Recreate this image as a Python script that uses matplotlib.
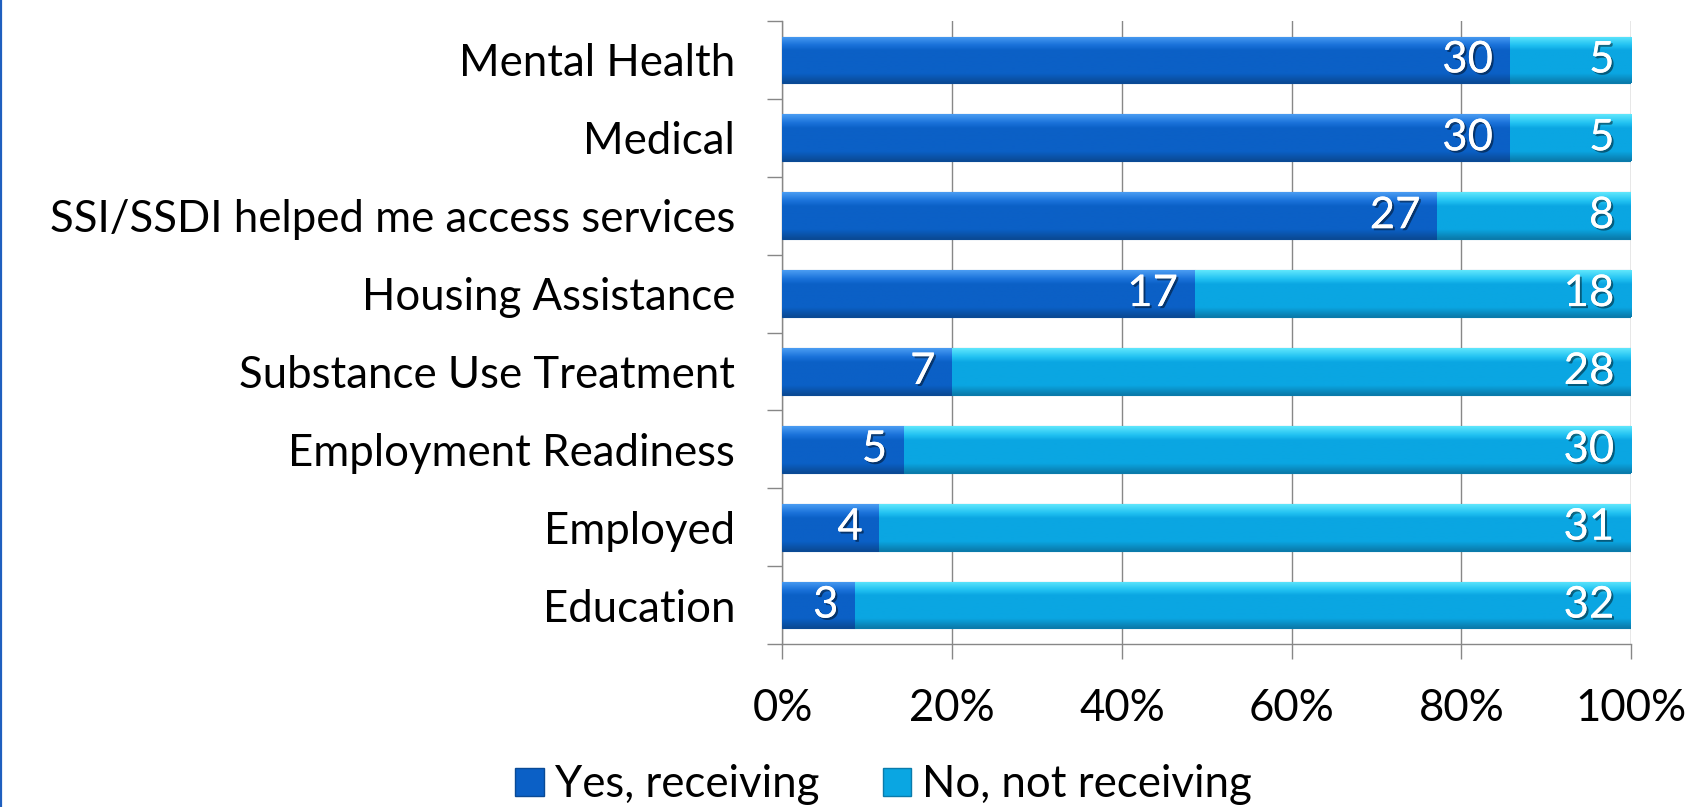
import matplotlib
matplotlib.use('Agg')
import matplotlib.pyplot as plt
import matplotlib.patheffects as pe
from matplotlib.colors import LinearSegmentedColormap
from matplotlib.patches import Patch
from matplotlib.lines import Line2D
import numpy as np

categories = ['Mental Health', 'Medical', 'SSI/SSDI helped me access services',
              'Housing Assistance', 'Substance Use Treatment', 'Employment Readiness',
              'Employed', 'Education']
yes_counts = [30, 30, 27, 17, 7, 5, 4, 3]
no_counts = [5, 5, 8, 18, 28, 30, 31, 32]
series_names = ['Yes, receiving', 'No, not receiving']
tick_labels = ['0%', '20%', '40%', '60%', '80%', '100%']

plt.rcParams['font.family'] = ['Lato', 'DejaVu Sans']
FS = 31.5

yes = np.array(yes_counts, dtype=float)
no = np.array(no_counts, dtype=float)
total = yes + no
yes_p = yes / total
no_p = no / total

fig = plt.figure(figsize=(16.9, 8.07), dpi=100)
ax = fig.add_axes([782.5 / 1690, 1 - 644 / 807, (1631 - 782.5) / 1690, (644 - 21) / 807])

y = np.arange(len(categories))
h = 0.6
yes_color = '#0b60c6'
no_color = '#0aa6e2'
bars_yes = ax.barh(y, yes_p, height=h, color=yes_color, edgecolor='#0a4a95', linewidth=0.8, zorder=3)
bars_no = ax.barh(y, no_p, left=yes_p, height=h, color=no_color, edgecolor='#0a7bab', linewidth=0.8, zorder=3)

# bevel-like vertical shading on each bar
cmap_yes = LinearSegmentedColormap.from_list('yes', [(0, '#4a9cf2'), (0.18, '#1a72da'), (0.3, yes_color),
                                                     (0.8, yes_color), (1, '#0a4a95')])
cmap_no = LinearSegmentedColormap.from_list('no', [(0, '#5fe6fc'), (0.18, '#22c2f2'), (0.3, no_color),
                                                   (0.8, no_color), (1, '#0a7bab')])
grad = np.linspace(0, 1, 64).reshape(-1, 1)
for bars, cm in ((bars_yes, cmap_yes), (bars_no, cmap_no)):
    for b in bars:
        x0, y0 = b.get_x(), b.get_y()
        w, hh = b.get_width(), b.get_height()
        im = ax.imshow(grad, cmap=cm, aspect='auto', origin='upper',
                       extent=(x0, x0 + w, y0 + hh, y0), zorder=3.5, interpolation='bilinear')
        im.set_clip_path(b)

shadow = [pe.withSimplePatchShadow(offset=(1.5, -1.5), shadow_rgbFace='black', alpha=0.45), pe.Normal()]
for i in range(len(categories)):
    ax.annotate(f'{yes_counts[i]}', xy=(yes_p[i], y[i]), xytext=(-12, 0), textcoords='offset points',
                ha='right', va='center', color='white', fontsize=FS, zorder=5, path_effects=shadow)
    ax.annotate(f'{no_counts[i]}', xy=(1.0, y[i]), xytext=(-12, 0), textcoords='offset points',
                ha='right', va='center', color='white', fontsize=FS, zorder=5, path_effects=shadow)

ax.set_xlim(0, 1)
ax.set_ylim(len(categories) - 0.5, -0.5)
ax.set_xticks(np.linspace(0, 1, 6))
ax.set_xticklabels(tick_labels, fontsize=FS)
ax.set_yticks(y)
ax.set_yticklabels(categories, fontsize=FS)
ax.set_yticks(np.arange(-0.5, len(categories), 1), minor=True)

grid_c = '#878787'
ax.set_axisbelow(True)
ax.grid(axis='x', color=grid_c, linewidth=1.0, zorder=0)
ax.tick_params(axis='y', which='major', length=0, pad=34)
ax.tick_params(axis='y', which='minor', length=10.8, width=1.0, color=grid_c, direction='out')
ax.tick_params(axis='x', which='major', length=10.8, width=1.0, color=grid_c, direction='out', pad=21)
for s in ('top', 'right'):
    ax.spines[s].set_visible(False)
for s in ('left', 'bottom'):
    ax.spines[s].set_color(grid_c)
    ax.spines[s].set_linewidth(1.0)

handles = [Patch(facecolor=yes_color, edgecolor='#0a4a95'), Patch(facecolor=no_color, edgecolor='#0a7bab')]
fig.legend(handles, series_names, loc='lower center', bbox_to_anchor=(0.5228, 0.002), ncol=2, frameon=False,
           fontsize=FS, handlelength=0.66, handleheight=0.62, handletextpad=0.25, columnspacing=1.45,
           borderpad=0, borderaxespad=0)

fig.add_artist(Line2D([0.0008, 0.0008], [0, 1], transform=fig.transFigure, color='#1f5fbf', linewidth=1.6))

fig.savefig('out.png', dpi=100)
